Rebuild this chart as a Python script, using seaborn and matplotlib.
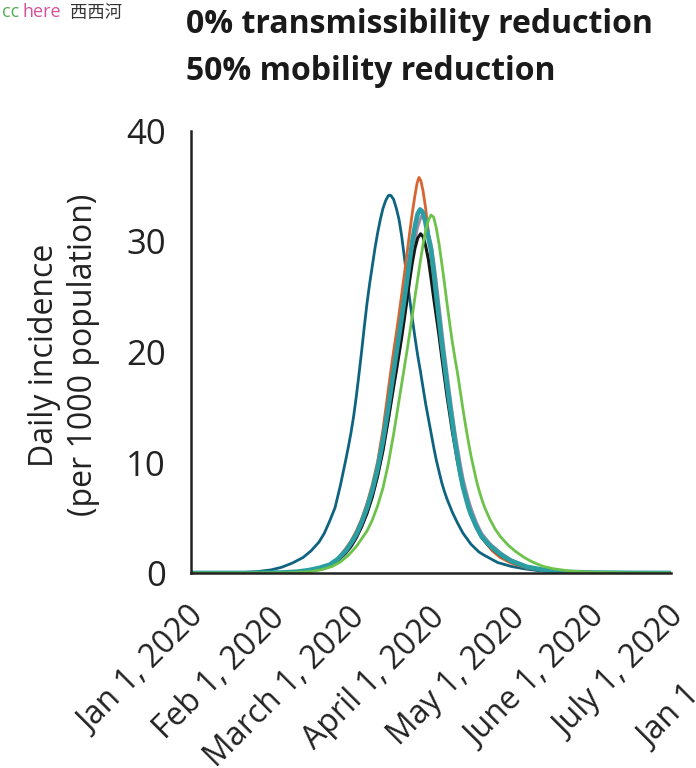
import numpy as np
import pandas as pd
import matplotlib
matplotlib.use("Agg")
import matplotlib.pyplot as plt
import matplotlib.transforms as mtransforms
import seaborn as sns

# values: day since Jan 1 2020 -> daily incidence per 1000
blue_day = [0, 10, 20, 25, 30, 34, 38, 42, 45, 48, 50, 52, 54, 56, 58, 59, 60, 61, 62, 63, 64,
            65, 66, 67, 68, 69, 70, 71, 72, 73, 74, 74.5, 75, 76, 77, 78, 79, 80, 81, 82, 83,
            84, 85, 86, 87, 88, 89, 90, 91, 92, 93, 94, 95, 96, 98, 100, 102, 105, 108, 110,
            115, 120, 125, 130, 137, 145, 160, 180]
blue_inc = [0, 0.01, 0.05, 0.13, 0.28, 0.52, 0.9, 1.4, 2.0, 2.8, 3.6, 4.7, 5.9, 7.9, 10.2, 11.4,
            12.7, 14.2, 16.0, 18.0, 20.1, 22.3, 24.4, 26.2, 27.8, 29.4, 30.8, 32.0, 33.0, 33.7,
            34.15, 34.2, 34.15, 33.8, 33.0, 32.0, 30.5, 28.6, 26.7, 24.8, 23.0, 21.3, 19.7,
            18.3, 16.8, 15.3, 14.0, 12.7, 11.4, 10.2, 9.2, 8.2, 7.4, 6.7, 5.5, 4.5, 3.6, 2.6,
            1.9, 1.6, 0.95, 0.6, 0.38, 0.22, 0.1, 0.05, 0.01, 0]

orange_day = [0, 20, 30, 35, 40, 44, 48, 52, 55, 58, 60, 62, 64, 66, 68, 70, 72, 73, 74, 75, 76,
              77, 78, 79, 80, 81, 82, 83, 84, 84.8, 85.5, 86.2, 87, 88, 89, 90, 91, 92, 93, 94,
              95, 96, 97, 98, 100, 102, 104, 106, 108, 110, 113, 116, 120, 126, 133, 145, 160,
              180]
orange_inc = [0, 0.005, 0.02, 0.05, 0.13, 0.26, 0.45, 0.75, 1.3, 2.2, 2.9, 3.8, 4.9, 6.3, 8.0,
              10.1, 13.0, 14.8, 16.6, 18.4, 20.1, 21.7, 23.4, 25.2, 27.0, 28.9, 30.8, 32.6,
              34.2, 35.3, 35.8, 35.5, 34.6, 33.0, 30.9, 28.6, 26.3, 24.1, 22.6, 20.6, 18.7,
              16.9, 15.2, 13.6, 10.7, 8.2, 6.3, 4.8, 3.7, 2.9, 2.0, 1.4, 0.9, 0.45, 0.2, 0.05,
              0.01, 0]

purple_day = [0, 20, 30, 35, 40, 44, 48, 52, 55, 58, 60, 62, 64, 66, 68, 70, 72, 74, 76, 78,
              80, 82, 83, 84, 85, 86.4, 87.5, 88.5, 90, 91, 92, 93, 94, 95, 96, 97, 98, 99, 100,
              101, 102, 103, 104, 105, 107, 109, 112, 116, 120, 126, 133, 140, 150, 165, 180]
purple_inc = [0, 0.005, 0.02, 0.04, 0.1, 0.21, 0.4, 0.68, 1.1, 1.8, 2.4, 3.2, 4.2, 5.4, 6.9,
              8.8, 11.1, 13.9, 16.9, 19.9, 23.1, 26.6, 28.4, 30.1, 31.3, 32.3, 32.0, 31.2, 29.8,
              28.3, 26.4, 24.3, 22.2, 20.1, 18.2, 16.3, 14.5, 12.8, 11.3, 9.9, 8.6, 7.6, 6.7,
              5.9, 4.6, 3.6, 2.7, 1.85, 1.2, 0.6, 0.27, 0.11, 0.04, 0.01, 0]

black_day = [0, 20, 30, 35, 40, 44, 48, 52, 55, 58, 60, 62, 64, 66, 68, 70, 72, 74, 76, 77, 78,
             79, 80, 81, 82, 83, 84, 85, 86.1, 87.1, 88, 89, 90, 91, 92, 93, 94, 95, 96, 97,
             98, 99, 100, 101, 102, 103, 104, 105, 107, 109, 112, 116, 120, 126, 133, 140, 150,
             165, 180]
black_inc = [0, 0.005, 0.02, 0.04, 0.1, 0.21, 0.4, 0.68, 1.1, 1.8, 2.4, 3.2, 4.2, 5.4, 6.9, 8.8,
             11.1, 13.9, 16.9, 18.3, 19.8, 21.3, 23.0, 24.7, 26.5, 28.1, 29.4, 30.3, 30.7, 30.4,
             29.6, 28.4, 26.7, 24.9, 23.2, 21.5, 19.6, 17.8, 16.0, 14.4, 12.8, 11.4, 10.0, 8.8,
             7.7, 6.8, 6.0, 5.3, 4.1, 3.2, 2.4, 1.6, 1.05, 0.5, 0.22, 0.09, 0.03, 0.01, 0]

teal_day = [0, 20, 30, 35, 40, 44, 48, 52, 55, 58, 60, 62, 64, 66, 68, 70, 72, 74, 76, 77, 78,
            79, 80, 81, 82, 83, 84, 85, 85.9, 86.8, 87.8, 89, 90, 91, 92, 93, 94, 95, 96, 97,
            98, 99, 100, 101, 102, 103, 104, 105, 107, 109, 112, 116, 120, 126, 133, 140, 150,
            165, 180]
teal_inc = [0, 0.005, 0.02, 0.05, 0.12, 0.25, 0.45, 0.75, 1.25, 2.0, 2.7, 3.5, 4.6, 5.9, 7.5,
            9.5, 12.0, 15.0, 18.3, 19.9, 21.5, 23.1, 24.8, 26.5, 28.3, 30.0, 31.4, 32.5, 32.9,
            32.7, 31.9, 30.4, 29.3, 27.3, 25.1, 23.0, 20.9, 19.0, 17.1, 15.3, 13.6, 11.9, 10.4,
            9.0, 7.8, 6.9, 6.0, 5.3, 4.2, 3.3, 2.5, 1.7, 1.1, 0.55, 0.25, 0.1, 0.04, 0.01, 0]

green_day = [0, 25, 35, 40, 45, 49, 53, 56, 59, 62, 64, 66, 68, 70, 72, 74, 76, 78, 80, 81, 82,
             83, 84, 85, 86, 87, 88, 89, 90, 91, 92, 93, 94, 95, 96, 97, 98, 99, 100, 101, 102,
             103, 104, 105, 106, 107, 108, 109, 110, 112, 114, 116, 119, 122, 125, 128, 132,
             136, 142, 150, 165, 180]
green_inc = [0, 0.005, 0.02, 0.05, 0.13, 0.3, 0.6, 1.0, 1.6, 2.4, 3.1, 3.8, 4.8, 6.1, 7.7, 9.9,
             12.6, 15.6, 18.6, 20.1, 21.7, 23.3, 25.0, 26.6, 28.2, 29.7, 31.0, 31.9, 32.4, 32.2,
             31.2, 29.8, 28.1, 26.3, 24.4, 22.6, 20.9, 19.4, 18.0, 16.4, 14.8, 13.3, 11.9,
             10.6, 9.5, 8.4, 7.5, 6.7, 6.0, 4.9, 4.0, 3.3, 2.5, 1.9, 1.4, 1.0, 0.6, 0.38,
             0.18, 0.07, 0.01, 0]

tick_days = [0, 30, 60, 90, 120, 150, 180]
tick_labels = ["Jan 1, 2020", "Feb 1, 2020", "March 1, 2020", "April 1, 2020",
               "May 1, 2020", "June 1, 2020", "July 1, 2020"]

series = [
    ("blue", blue_day, blue_inc, "#0e6480", 2.0),
    ("orange", orange_day, orange_inc, "#d9642f", 2.0),
    ("purple", purple_day, purple_inc, "#a28aaa", 2.0),
    ("black", black_day, black_inc, "#151515", 2.2),
    ("teal", teal_day, teal_inc, "#2a9ea3", 3.4),
    ("green", green_day, green_inc, "#6cc24a", 2.0),
]

sns.set_style("white")
plt.rcParams["font.family"] = ["Open Sans", "DejaVu Sans"]

fig = plt.figure(figsize=(6.96, 7.68), dpi=100)
ax = fig.add_axes([191 / 696, 1 - 573 / 768, 480 / 696, 442 / 768])

for name, d, v, col, lw in series:
    df = pd.DataFrame({"day": d, "incidence": v})
    sns.lineplot(data=df, x="day", y="incidence", color=col, linewidth=lw,
                 estimator=None, ax=ax)

ax.set_xlim(0, 180)
ax.set_ylim(0, 40)
ax.set_yticks([0, 10, 20, 30, 40])
ax.set_xticks(tick_days)
ax.set_xticklabels(tick_labels, rotation=45, ha="right", va="center",
                   rotation_mode="anchor")
ax.tick_params(axis="both", length=13, width=1.8, color="#222222", labelsize=25,
               labelcolor="#222222", pad=5)
ax.tick_params(axis="x", labelsize=23, pad=10)
ax.set_xlabel("")
ax.set_ylabel("")
for s in ["top", "right"]:
    ax.spines[s].set_visible(False)
for s in ["left", "bottom"]:
    ax.spines[s].set_linewidth(1.8)
    ax.spines[s].set_color("#222222")

# nudge rotated date labels right/down like the original
shift = mtransforms.ScaledTranslation(0.09, -0.08, fig.dpi_scale_trans)
for lab in ax.get_xticklabels():
    lab.set_transform(lab.get_transform() + shift)

# label of the tick that falls off the right edge
ax.text(210, -4.2, "Jan 1, 2021", rotation=45, ha="right", va="center", fontsize=23,
        color="#222222", rotation_mode="anchor", clip_on=False,
        transform=ax.transData + shift)

fig.text(64 / 696, 1 - 355 / 768, "Daily incidence\n(per 1000 population)", rotation=90,
         ha="center", va="center", fontsize=23, color="#222222", linespacing=1.25)

fig.text(186 / 696, 1 - 33 / 768, "0% transmissibility reduction", fontsize=23,
         fontweight="bold", color="#1a1a1a", va="baseline")
fig.text(186 / 696, 1 - 80 / 768, "50% mobility reduction", fontsize=23,
         fontweight="bold", color="#1a1a1a", va="baseline")

fig.text(2 / 696, 1 - 17 / 768, "cc", fontsize=13, color="#4fae4f", va="baseline")
fig.text(22 / 696, 1 - 17 / 768, "here", fontsize=13, color="#d6509a", va="baseline")
fig.text(70 / 696, 1 - 18 / 768, "西西河", fontsize=12.5, color="#333333", va="baseline",
         family=["Noto Sans CJK SC", "DejaVu Sans"])

fig.savefig("out.png", dpi=100)
